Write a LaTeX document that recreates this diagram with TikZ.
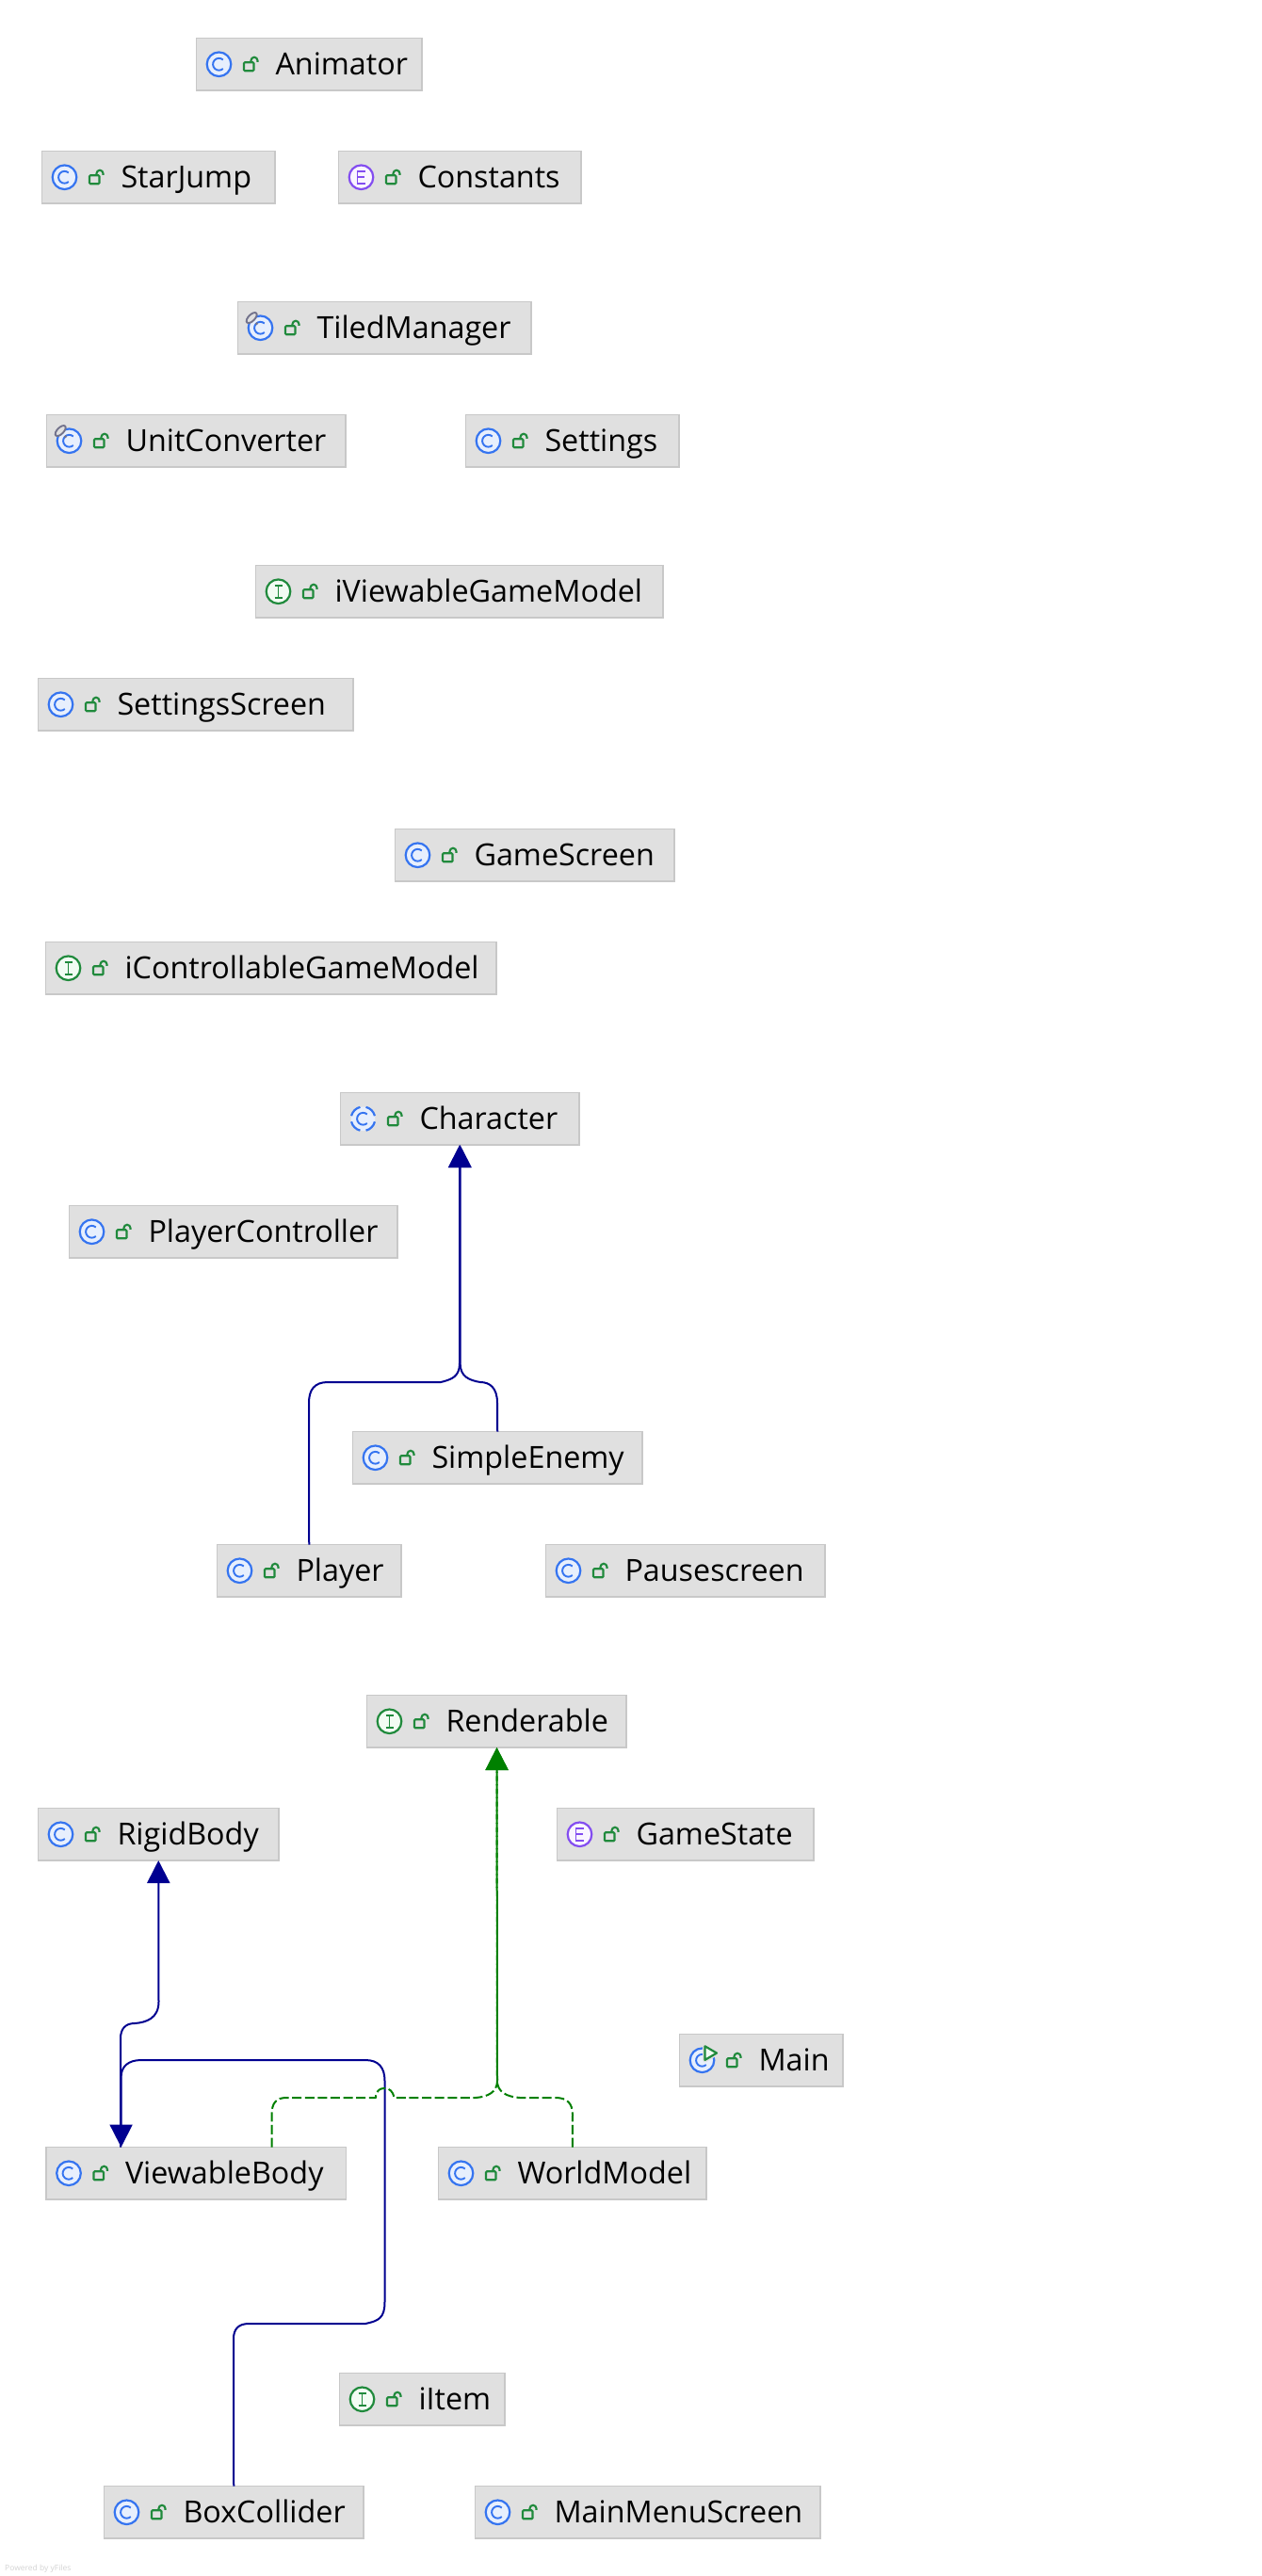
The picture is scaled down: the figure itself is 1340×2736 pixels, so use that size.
\documentclass[tikz,border=0pt]{standalone}
\usepackage{fontspec}
\setmainfont{Open Sans}
\usetikzlibrary{arrows.meta}
\definecolor{boxfill}{HTML}{E0E0E0}
\definecolor{boxline}{HTML}{C8C8C8}
\definecolor{inhcol}{HTML}{000090}
\definecolor{implcol}{HTML}{008000}
\definecolor{icblue}{HTML}{3574F0}
\definecolor{icbluef}{HTML}{E7EFFD}
\definecolor{icgreen}{HTML}{208A3C}
\definecolor{icgreenf}{HTML}{F2FCF3}
\definecolor{icpurple}{HTML}{834DF0}
\definecolor{icpurplef}{HTML}{FAF5FF}
\tikzset{
  clsbox/.style={draw=boxline,fill=boxfill,line width=1.4pt,rectangle,inner sep=0pt,outer sep=0pt,minimum height=55.5pt,anchor=north west},
  clstext/.style={anchor=base west,inner sep=0pt,outer sep=0pt,text=black,font=\fontsize{32.3}{38}\selectfont},
  inh/.style={draw=inhcol,line width=2pt,line join=round},
  impl/.style={draw=implcol,line width=2pt,line join=round,dash pattern=on 10pt off 3.6pt},
  inhtip/.style={-{Triangle[length=24pt,width=24pt,color=inhcol]}},
  impltip/.style={-{Triangle[length=24pt,width=24pt,color=implcol]}},
  credit/.style={anchor=west,inner sep=0pt,text=black!17,font=\fontsize{8.5}{10}\selectfont}
}
% icons are drawn in a local frame whose origin is the west anchor of the box, y upwards
\newcommand{\drawlock}{%
  \draw[icgreen,line width=2.1pt,rounded corners=1pt] (50.5,-7) rectangle (61,2);
  \draw[icgreen,line width=2.1pt] (58,2) -- (58,4) arc[start angle=180,end angle=0,radius=3.5pt] -- (65,2.5);
}
\newcommand{\ringC}{%
  \draw[icblue,line width=2.2pt,fill=icbluef] (24,0) circle[radius=12.8pt];
}
\newcommand{\letterC}{%
  \draw[icblue,line width=1.9pt] (24,0) ++(48:6.4pt) arc[start angle=48,end angle=312,radius=6.4pt];
}
\newcommand{\icC}{\ringC\letterC}
\newcommand{\icA}{%
  \fill[icbluef] (24,0) circle[radius=12.8pt];
  \foreach \a in {45,135,225,315}{
    \draw[icblue,line width=2.2pt] (24,0) ++(\a-31:12.8pt) arc[start angle=\a-31,end angle=\a+31,radius=12.8pt];
  }
  \letterC
}
\newcommand{\icE}{%
  \draw[icpurple,line width=2.2pt,fill=icpurplef] (24,0) circle[radius=12.8pt];
  \draw[icpurple,line width=1.9pt] (28.5,6.5) -- (20,6.5) -- (20,-6.5) -- (28.5,-6.5) (20,0) -- (27.5,0);
}
\newcommand{\icI}{%
  \draw[icgreen,line width=2.2pt,fill=icgreenf] (24,0) circle[radius=12.8pt];
  \draw[icgreen,line width=1.9pt] (20,6.5) -- (28,6.5) (24,6.5) -- (24,-6.5) (20,-6.5) -- (28,-6.5);
}
\newcommand{\icS}{%
  \ringC\letterC
  \draw[gray!90!blue,line width=1.9pt,fill=boxfill,rotate around={45:(14.7,10.7)}] (14.7,10.7) ellipse[x radius=7pt,y radius=3.4pt];
  \fill[gray!90!blue] (20,4.5) circle[radius=1.6pt];
}
\newcommand{\icM}{%
  \ringC\letterC
  \draw[boxfill,line width=5pt,line join=round,fill=boxfill] (27,15) -- (39.5,7.7) -- (27,0.4) -- cycle;
  \draw[icgreen,line width=2.2pt,line join=round,fill=icgreenf] (27,15) -- (39.5,7.7) -- (27,0.4) -- cycle;
}
\newcommand{\classbox}[6]{%
  \node[clsbox,minimum width=#4pt] (#1) at (#2,#3) {};
  \begin{scope}[shift={(#1.west)},x=1pt,y=1pt]
    \csname ic#6\endcsname
    \drawlock
  \end{scope}
  \node[clstext] (#1-label) at ([xshift=84pt,yshift=-11.5pt]#1.west) {#5};
}
\begin{document}
\begin{tikzpicture}[x=1pt,y=-1pt]
\useasboundingbox (0,0) rectangle (1340,2736);
\fill[white] (0,0) rectangle (1340,2736);

\classbox{animator}{208.5}{40.5}{239.5}{Animator}{C}
\classbox{starjump}{44.5}{160.5}{247.5}{StarJump}{C}
\classbox{constants}{359.5}{160.5}{257.5}{Constants}{E}
\classbox{tiled}{252.5}{320.5}{311.5}{TiledManager}{S}
\classbox{unit}{49.5}{440.5}{317.5}{UnitConverter}{S}
\classbox{settings}{494.5}{440.5}{226.5}{Settings}{C}
\classbox{viewable}{271.5}{600.5}{432.5}{iViewableGameModel}{I}
\classbox{settingsscreen}{40.5}{720.5}{334.5}{SettingsScreen}{C}
\classbox{gamescreen}{419.5}{880.5}{296.5}{GameScreen}{C}
\classbox{controllable}{48.5}{1000.5}{478.5}{iControllableGameModel}{I}
\classbox{character}{361.5}{1160.5}{253.5}{Character}{A}
\classbox{controller}{73.5}{1280.5}{348.5}{PlayerController}{C}
\classbox{enemy}{374.5}{1520.5}{307.5}{SimpleEnemy}{C}
\classbox{player}{230.5}{1640.5}{195.5}{Player}{C}
\classbox{pause}{579.5}{1640.5}{296.5}{Pausescreen}{C}
\classbox{renderable}{389.5}{1800.5}{275.5}{Renderable}{I}
\classbox{rigid}{40.5}{1920.5}{255.5}{RigidBody}{C}
\classbox{gamestate}{591.5}{1920.5}{272.5}{GameState}{E}
\classbox{main}{721.5}{2160.5}{173.5}{Main}{M}
\classbox{vbody}{49}{2280.5}{318.5}{ViewableBody}{C}
\classbox{world}{465.5}{2280.5}{284.5}{WorldModel}{C}
\classbox{item}{360.5}{2520.5}{175.5}{iItem}{I}
\classbox{box}{110.5}{2640.5}{275.5}{BoxCollider}{C}
\classbox{menu}{504.5}{2640.5}{366.5}{MainMenuScreen}{C}

% inheritance: Player, SimpleEnemy -> Character
\draw[inh,inhtip] (player.north) -- (328,1490)
  .. controls (328,1476) and (334,1468) .. (348,1468) -- (468,1468)
  .. controls (480,1465) and (488,1462) .. (488,1448) -- ([xshift=-.25pt]character.south);
\draw[inh,inhtip] (enemy.north) -- (528,1490)
  .. controls (528,1474) and (520,1468) .. (510,1468)
  .. controls (498,1466) and (488.6,1462) .. (488.6,1448) -- ([xshift=.35pt]character.south);

% inheritance: ViewableBody -> RigidBody
\draw[inh,inhtip] ([xshift=79pt]vbody.north west) -- (128,2165)
  .. controls (128,2155) and (133,2149) .. (143,2149)
  .. controls (155,2148) and (168.5,2144) .. (168.5,2126) -- (rigid.south);

% inheritance: BoxCollider -> ViewableBody
\draw[inh,inhtip] (box.north) -- (248,2484)
  .. controls (248,2474) and (253,2468) .. (264,2468) -- (388,2468)
  .. controls (402,2465) and (408.5,2462) .. (408.5,2445) -- (408.5,2210)
  .. controls (408.5,2196) and (402,2188) .. (388,2188) -- (150,2188)
  .. controls (136,2188) and (128.6,2195) .. (128.6,2206) -- ([xshift=79.6pt]vbody.north west);

% realization: ViewableBody, WorldModel -> Renderable
\draw[impl,impltip] ([xshift=239.5pt]vbody.north west) -- (288.5,2246)
  .. controls (288.5,2234) and (293,2228) .. (304,2228) -- (399,2228)
  -- (399,2226) .. controls (400,2220) and (404,2218) .. (408,2218)
  .. controls (414,2218) and (417,2221) .. (418.5,2228) -- (505,2228)
  .. controls (518,2227) and (528,2222) .. (528,2210) -- ([xshift=.3pt]renderable.south);
\draw[impl,impltip] (world.north) -- (608,2246)
  .. controls (608,2234) and (602,2228) .. (590,2228) -- (552,2228)
  .. controls (538,2227) and (528,2222) .. (528,2210) -- ([xshift=.3pt]renderable.south);

\node[credit] (yfiles) at (5,2728) {Powered by yFiles};
\end{tikzpicture}
\end{document}
